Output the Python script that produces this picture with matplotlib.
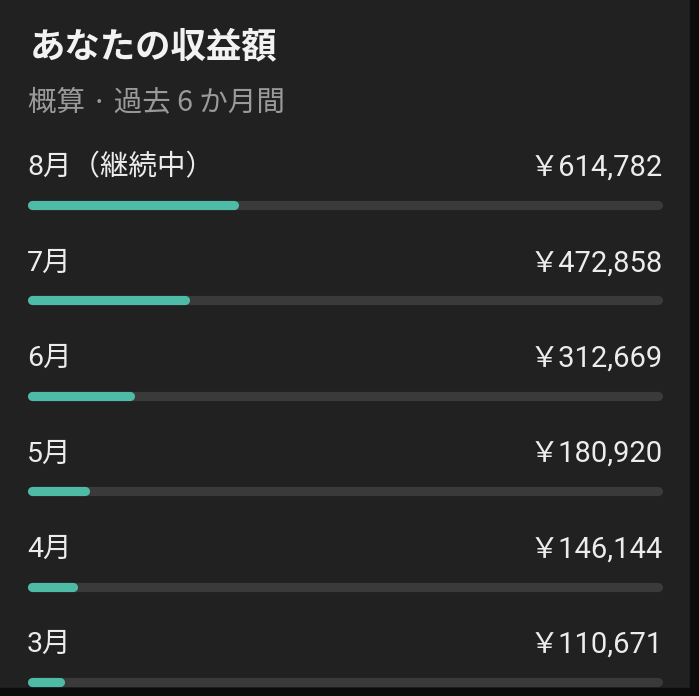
import matplotlib
matplotlib.use("Agg")
import matplotlib.pyplot as plt
from matplotlib.patches import Rectangle

plt.rcParams['font.family'] = ['Roboto', 'Noto Sans CJK JP', 'DejaVu Sans']

title = "あなたの収益額"
subtitle = "概算 · 過去 6 か月間"
months = ["8月（継続中）", "7月", "6月", "5月", "4月", "3月"]
earnings = [614782, 472858, 312669, 180920, 146144, 110671]
scale_max = 1850000

bg = "#212121"
track = "#3a3a3a"
teal = "#4dbba6"

fig = plt.figure(figsize=(6.99, 6.96), dpi=100)
fig.patch.set_facecolor(bg)

# bar track runs from x=27 to x=663 px, round caps included
ax = fig.add_axes([27 / 699, 0, 636 / 699, 1])
ax.set_facecolor("none")
ax.set_xlim(0, scale_max)
# row i sits at pixel 205 + 95.4*i from the top
ax.set_ylim((696 - 205) / 95.4, -205 / 95.4)
ax.axis("off")

lw = 6.6
cap = (lw / 72 * 100 / 2) / 636 * scale_max  # round cap length in data units
for i, (m, v) in enumerate(zip(months, earnings)):
    ax.plot([cap, scale_max - cap], [i, i], color=track, lw=lw,
            solid_capstyle="round", clip_on=False)
    ax.plot([cap, max(v - cap, cap)], [i, i], color=teal, lw=lw,
            solid_capstyle="round", clip_on=False)
    ax.text(0, i - 0.39, m, color="#ececec", fontsize=20.5,
            va="center", ha="left")
    ax.text(scale_max, i - 0.39, "￥" + f"{v:,}", color="#ececec",
            fontsize=21, va="center", ha="right")

fig.text(30 / 699, 1 - 47 / 696, title, color="#f2f2f2", fontsize=25.5,
         fontweight="bold", va="center", ha="left")
fig.text(28 / 699, 1 - 102 / 696, subtitle, color="#9a9a9a", fontsize=20.5,
         va="center", ha="left", family=['Noto Sans CJK JP', 'DejaVu Sans'])

# dark frame at right and bottom edges
fig.patches.append(Rectangle((690 / 699, 0), 9 / 699, 1, transform=fig.transFigure,
                             color="#0c0c0c", zorder=5))
fig.patches.append(Rectangle((0, 0), 1, 8 / 696, transform=fig.transFigure,
                             color="#0c0c0c", zorder=5))

fig.savefig("out.png", dpi=100, facecolor=bg)
